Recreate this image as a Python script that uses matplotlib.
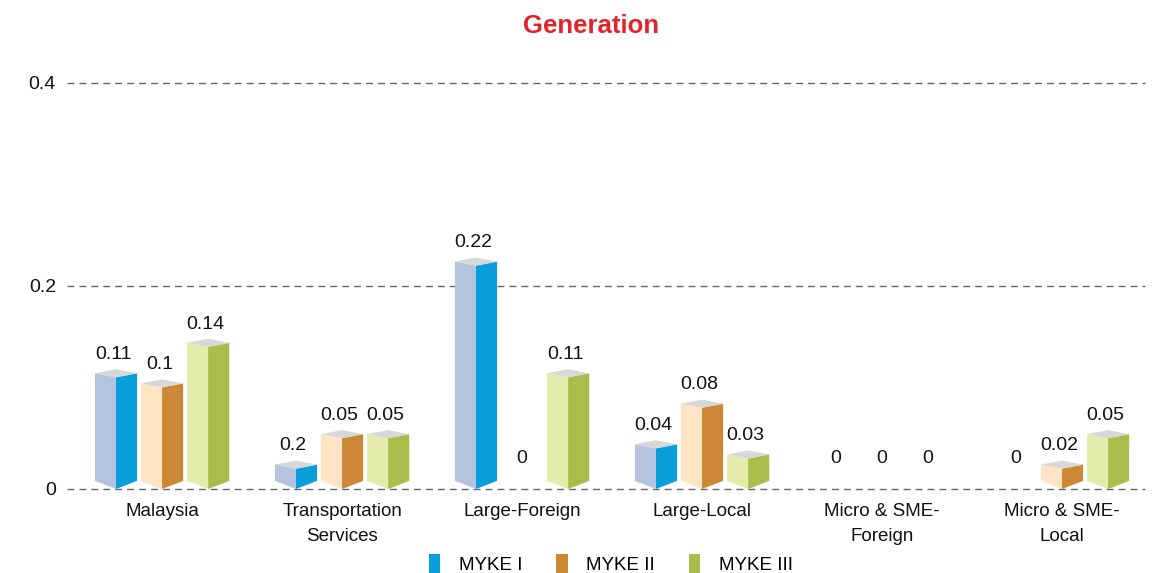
import matplotlib.pyplot as plt
from matplotlib.patches import Polygon, Patch
import numpy as np

plt.rcParams['font.family'] = ['Liberation Sans', 'DejaVu Sans']

categories = ['Malaysia', 'Transportation\nServices', 'Large-Foreign', 'Large-Local',
              'Micro & SME-\nForeign', 'Micro & SME-\nLocal']
series = ['MYKE I', 'MYKE II', 'MYKE III']
myke1 = [0.11, 0.02, 0.22, 0.04, 0, 0]
myke2 = [0.1, 0.05, 0, 0.08, 0, 0.02]
myke3 = [0.14, 0.05, 0.11, 0.03, 0, 0.05]
# printed value labels (the transport MYKE I one reads 0.2 in the source table)
labels1 = ['0.11', '0.2', '0.22', '0.04', '0', '0']
labels2 = ['0.1', '0.05', '0', '0.08', '0', '0.02']
labels3 = ['0.14', '0.05', '0.11', '0.03', '0', '0.05']
yticks = [0, 0.2, 0.4]

front_colors = ['#0a9fdb', '#cc8834', '#aabd4b']
side_colors = ['#b5c4de', '#ffe3c5', '#e3ecab']
top_color = '#d7d7d7'
text_color = '#111111'

fig = plt.figure(figsize=(11.54, 5.73), dpi=100)
ax = fig.add_axes([0.0581, 0.1466, 0.9341, 0.7086])

ax.set_xlim(-0.528, 5.461)
ax.set_ylim(0, 0.4)

for y in yticks:
    ax.axhline(y, color='#666666', lw=1, dashes=(5, 3.6), zorder=0, clip_on=False)

hw = 0.117        # half width of a prism
step = 0.256      # distance between prisms in a group
d_top = 0.004     # perspective drop on the top face
d_bot = 0.008     # perspective lift at the base


def draw_prism(x, v, light, dark):
    left = [(x - hw, d_bot), (x, 0), (x, v), (x - hw, v + d_top)]
    right = [(x, 0), (x + hw, d_bot), (x + hw, v + d_top), (x, v)]
    top = [(x - hw, v + d_top), (x, v), (x + hw, v + d_top), (x, v + 2 * d_top)]
    ax.add_patch(Polygon(left, closed=True, fc=light, ec='none', zorder=2, clip_on=False))
    ax.add_patch(Polygon(right, closed=True, fc=dark, ec='none', zorder=2, clip_on=False))
    ax.add_patch(Polygon(top, closed=True, fc=top_color, ec='none', zorder=2, clip_on=False))


xs = np.arange(len(categories))
all_values = [myke1, myke2, myke3]
all_labels = [labels1, labels2, labels3]
for k in range(3):
    for i, x0 in enumerate(xs):
        x = x0 + (k - 1) * step
        v = all_values[k][i]
        if v > 0:
            draw_prism(x, v, side_colors[k], front_colors[k])
            ax.annotate(all_labels[k][i], (x - 0.015, v + 2 * d_top), xytext=(0, 4.5),
                        textcoords='offset points', ha='center', va='bottom',
                        fontsize=14, color=text_color)
        else:
            ax.annotate(all_labels[k][i], (x, 0), xytext=(0, 16),
                        textcoords='offset points', ha='center', va='bottom',
                        fontsize=14, color=text_color)

ax.set_xticks(xs)
ax.set_xticklabels(categories, fontsize=13.5, linespacing=1.65, color=text_color)
ax.set_yticks(yticks)
ax.set_yticklabels(['0', '0.2', '0.4'], fontsize=14, color=text_color)
ax.tick_params(axis='both', length=0)
ax.tick_params(axis='x', pad=10)
ax.tick_params(axis='y', pad=8)
for s in ax.spines.values():
    s.set_visible(False)

fig.text(591 / 1154, 1 - 26 / 573, 'Generation', ha='center', va='center',
         fontsize=18.5, fontweight='bold', color='#e3232a')

handles = [Patch(fc=c, ec='none') for c in front_colors]
fig.legend(handles, series, loc='center', bbox_to_anchor=(611 / 1154, 1 - 564 / 573),
           ncol=3, frameon=False, fontsize=13.5, handlelength=0.6, handleheight=1.2,
           handletextpad=1.0, columnspacing=1.8)

fig.savefig('out.png', dpi=100)
